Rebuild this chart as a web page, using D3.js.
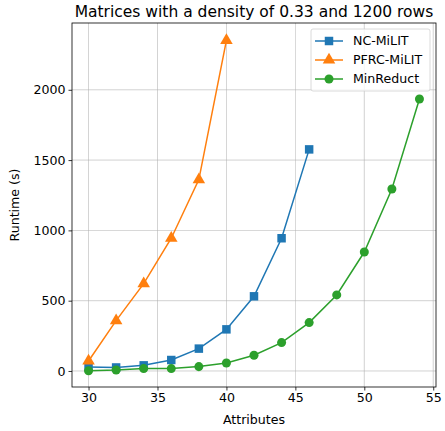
<!DOCTYPE html>
<html>
<head>
<meta charset="utf-8">
<script src="https://cdn.jsdelivr.net/npm/d3@7"></script>
<style>
  body { margin: 0; background: #fff; }
  svg text { font-family: "DejaVu Sans", sans-serif; fill: #000; }
</style>
</head>
<body>
<script>
// Data
var ncX = [30, 32, 34, 36, 38, 40, 42, 44, 46];
var ncY = [28, 25, 40, 78, 159, 296, 531, 944, 1576];

var pfrcX = [30, 32, 34, 36, 38, 40];
var pfrcY = [71, 358, 621, 944, 1361, 2351];

var minX = [30, 32, 34, 36, 38, 40, 42, 44, 46, 48, 50, 52, 54];
var minY = [2, 7, 17, 17, 31, 57, 112, 202, 344, 541, 846, 1294, 1934];

var xTicks = [30, 35, 40, 45, 50, 55];
var yTicks = [0, 500, 1000, 1500, 2000];

var series = [
    {name: "NC-MiLIT", xs: ncX, ys: ncY, color: "#1f77b4", marker: "square"},
    {name: "PFRC-MiLIT", xs: pfrcX, ys: pfrcY, color: "#ff7f0e", marker: "triangle"},
    {name: "MinReduct", xs: minX, ys: minY, color: "#2ca02c", marker: "circle"}
];

var W = 445, H = 431;
var margin = {top: 23, right: 9, bottom: 44, left: 72},
    width = W - margin.left - margin.right,
    height = H - margin.top - margin.bottom;

var fs = "12.6px";

var x = d3.scaleLinear().domain([28.8, 55.2]).range([0, width]);
var y = d3.scaleLinear().domain([-114, 2475]).range([height, 0]);

var svg = d3.select("body").append("svg")
    .attr("width", W).attr("height", H);
var g = svg.append("g")
    .attr("transform", "translate(" + margin.left + "," + margin.top + ")");

// grid
g.selectAll(".gx").data(xTicks).enter().append("line")
    .attr("x1", d => x(d)).attr("x2", d => x(d))
    .attr("y1", 0).attr("y2", height)
    .style("stroke", "#b0b0b0").style("stroke-width", 0.7).style("opacity", 0.8);
g.selectAll(".gy").data(yTicks).enter().append("line")
    .attr("x1", 0).attr("x2", width)
    .attr("y1", d => y(d)).attr("y2", d => y(d))
    .style("stroke", "#b0b0b0").style("stroke-width", 0.7).style("opacity", 0.8);

// lines + markers
var line = d3.line().x(d => x(d[0])).y(d => y(d[1]));
var sym = {
    square: d3.symbol().type(d3.symbolSquare).size(72),
    triangle: d3.symbol().type(d3.symbolTriangle).size(68),
    circle: d3.symbol().type(d3.symbolCircle).size(64)
};

series.forEach(function(s) {
    var pts = s.xs.map((v, i) => [v, s.ys[i]]);
    g.append("path")
        .attr("d", line(pts))
        .style("fill", "none")
        .style("stroke", s.color)
        .style("stroke-width", 1.5);
    g.selectAll(null).data(pts).enter().append("path")
        .attr("transform", d => "translate(" + x(d[0]) + "," + y(d[1]) + ")")
        .attr("d", sym[s.marker]())
        .style("fill", s.color);
});

// axes
var xAxis = g.append("g")
    .attr("transform", "translate(0," + height + ")")
    .call(d3.axisBottom(x).tickValues(xTicks).tickFormat(d3.format("d")).tickSize(3.5).tickPadding(3));
var yAxis = g.append("g")
    .call(d3.axisLeft(y).tickValues(yTicks).tickFormat(d3.format("d")).tickSize(3.5).tickPadding(3));
[xAxis, yAxis].forEach(function(a) {
    a.selectAll("text").style("font-size", fs).style("font-family", "DejaVu Sans");
    a.select(".domain").remove();
    a.selectAll(".tick line").style("stroke", "#000").style("stroke-width", 0.8);
});

// frame
g.append("rect")
    .attr("width", width).attr("height", height)
    .style("fill", "none").style("stroke", "#000").style("stroke-width", 0.8);

// labels
svg.append("text")
    .attr("x", margin.left + width / 2).attr("y", 17)
    .style("text-anchor", "middle").style("font-size", "15.5px")
    .text("Matrices with a density of 0.33 and 1200 rows");
svg.append("text")
    .attr("x", margin.left + width / 2).attr("y", 424)
    .style("text-anchor", "middle").style("font-size", fs)
    .text("Attributes");
svg.append("text")
    .attr("transform", "translate(19," + (margin.top + height / 2) + ") rotate(-90)")
    .style("text-anchor", "middle").style("font-size", fs)
    .text("Runtime (s)");

// legend
var leg = g.append("g").attr("transform", "translate(" + (width - 125) + ",6)");
leg.append("rect")
    .attr("width", 119).attr("height", 62).attr("rx", 2)
    .style("fill", "#fff").style("fill-opacity", 0.8)
    .style("stroke", "#d0d0d0").style("stroke-width", 0.8);
series.forEach(function(s, i) {
    var yy = 12 + i * 19;
    leg.append("line")
        .attr("x1", 4).attr("x2", 32).attr("y1", yy).attr("y2", yy)
        .style("stroke", s.color).style("stroke-width", 1.5);
    leg.append("path")
        .attr("transform", "translate(18," + yy + ")")
        .attr("d", sym[s.marker]())
        .style("fill", s.color);
    leg.append("text")
        .attr("x", 42).attr("y", yy).attr("dy", "0.35em")
        .style("font-size", fs)
        .text(s.name);
});
</script>
</body>
</html>
